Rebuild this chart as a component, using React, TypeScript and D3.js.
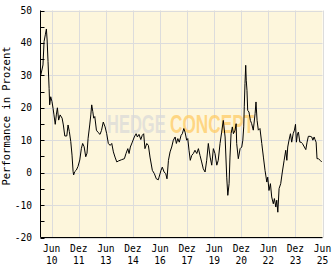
import React from "react";
import * as d3 from "d3";

// decimal year of each reading, and performance in percent
const times: number[] = [
  2009.81, 2009.93, 2009.99, 2010.06, 2010.12, 2010.16, 2010.21, 2010.27, 2010.30, 2010.36,
  2010.43, 2010.49, 2010.54, 2010.61, 2010.67, 2010.73, 2010.80, 2010.88, 2010.99, 2011.06,
  2011.14, 2011.25, 2011.32, 2011.39, 2011.47, 2011.54, 2011.60, 2011.63, 2011.69, 2011.78,
  2011.87, 2011.97, 2012.06, 2012.13, 2012.21, 2012.30, 2012.37, 2012.43, 2012.52, 2012.58,
  2012.63, 2012.69, 2012.74, 2012.80, 2012.89, 2012.98, 2013.09, 2013.17, 2013.27, 2013.37,
  2013.46, 2013.55, 2013.65, 2013.74, 2013.83, 2013.92, 2014.02, 2014.11, 2014.29, 2014.44,
  2014.53, 2014.63, 2014.70, 2014.77, 2014.88, 2014.99, 2015.09, 2015.16, 2015.25, 2015.35,
  2015.43, 2015.51, 2015.58, 2015.68, 2015.77, 2015.86, 2015.99, 2016.10, 2016.21, 2016.32,
  2016.36, 2016.47, 2016.54, 2016.64, 2016.73, 2016.80, 2016.88, 2016.97, 2017.06, 2017.15,
  2017.25, 2017.32, 2017.40, 2017.48, 2017.58, 2017.65, 2017.73, 2017.80, 2017.89, 2017.95,
  2018.02, 2018.09, 2018.17, 2018.26, 2018.35, 2018.45, 2018.54, 2018.63, 2018.72, 2018.81,
  2018.91, 2019.00, 2019.09, 2019.19, 2019.28, 2019.37, 2019.46, 2019.56, 2019.64, 2019.74,
  2019.83, 2019.92, 2020.02, 2020.11, 2020.17, 2020.24, 2020.29, 2020.35, 2020.42, 2020.48,
  2020.57, 2020.63, 2020.66, 2020.75, 2020.85, 2020.94, 2021.00, 2021.05, 2021.08, 2021.12,
  2021.16, 2021.19, 2021.23, 2021.27, 2021.34, 2021.42, 2021.49, 2021.58, 2021.68, 2021.73,
  2021.79, 2021.86, 2021.95, 2022.05, 2022.14, 2022.23, 2022.33, 2022.38, 2022.45, 2022.53,
  2022.60, 2022.69, 2022.75, 2022.83, 2022.88, 2022.94, 2023.01, 2023.10, 2023.19, 2023.29,
  2023.38, 2023.44, 2023.49, 2023.56, 2023.64, 2023.71, 2023.79, 2023.86, 2023.92, 2023.97,
  2024.03, 2024.08, 2024.16, 2024.23, 2024.30, 2024.41, 2024.49, 2024.56, 2024.63, 2024.73,
  2024.82, 2024.88, 2024.95, 2025.00, 2025.06, 2025.11, 2025.19, 2025.28, 2025.37,
];

const performance: number[] = [
  30.1, 33.2, 40.4, 42.5, 44.3, 40.9, 34.3, 26.0, 20.9, 23.4,
  21.9, 19.8, 17.8, 14.9, 17.8, 20.0, 16.2, 17.8, 16.8, 14.7,
  11.3, 11.3, 14.7, 12.7, 9.6, 5.4, 0.3, -0.7, 0.3, 0.8,
  1.9, 3.9, 7.5, 9.0, 8.0, 4.9, 6.0, 10.6, 14.7, 17.8,
  20.9, 18.8, 16.8, 17.3, 13.1, 12.4, 11.8, 13.0, 15.6, 14.1,
  12.0, 9.0, 8.4, 9.0, 6.4, 4.8, 3.3, 3.6, 4.0, 4.3,
  5.9, 7.4, 5.9, 7.9, 9.4, 11.0, 12.0, 11.0, 11.8, 10.2,
  11.5, 12.0, 7.4, 9.0, 8.4, 4.8, 0.7, -0.3, -1.9, -2.2,
  -1.4, 0.7, 1.7, 0.2, -0.3, -1.9, 3.8, 6.4, 7.9, 10.0,
  11.0, 9.0, 10.5, 9.4, 11.5, 12.0, 13.6, 12.5, 10.0, 10.5,
  6.9, 3.8, 5.3, 5.9, 6.9, 5.9, 7.4, 5.3, 3.3, 1.2,
  0.2, 3.8, 9.0, 4.8, 2.3, 7.4, 5.9, 2.3, 3.8, 9.0,
  12.5, 16.1, 11.0, -1.4, -7.0, -3.4, 4.8, 12.0, 14.1, 12.0,
  13.1, 15.1, 9.0, 4.3, 7.4, 7.9, 10.0, 14.1, 20.3, 27.5,
  33.1, 28.5, 25.4, 19.2, 18.7, 16.1, 15.1, 13.1, 18.2, 21.8,
  16.1, 13.1, 13.6, 9.0, 4.8, 0.7, -2.9, -1.4, -5.5, -3.4,
  -7.5, -9.6, -8.0, -10.6, -8.5, -12.2, -4.9, -3.4, 0.2, 3.8,
  6.9, 3.8, 7.9, 10.0, 12.0, 9.4, 12.0, 13.1, 14.9, 9.4,
  12.0, 12.5, 9.4, 9.4, 9.0, 7.9, 7.1, 9.4, 11.2, 11.2,
  11.0, 10.0, 11.0, 10.2, 9.4, 4.3, 4.3, 3.8, 3.3,
];

const xTickDates: string[] = [
  "2010-06", "2011-12", "2013-06", "2014-12", "2016-06", "2017-12",
  "2019-06", "2020-12", "2022-06", "2023-12", "2025-06",
];
const monthNames: string[] = ["Jan", "Feb", "Mär", "Apr", "Mai", "Jun", "Jul", "Aug", "Sep", "Okt", "Nov", "Dez"];
const yTicks: number[] = [-20, -10, 0, 10, 20, 30, 40, 50];
const yMinorTicks: number[] = [-15, -5, 5, 15, 25, 35, 45];
const yTitle = "Performance in Prozent";

function decToDate(t: number): Date {
  const y = Math.floor(t);
  const a = new Date(y, 0, 1).getTime();
  const b = new Date(y + 1, 0, 1).getTime();
  return new Date(a + (t - y) * (b - a));
}
function parseYM(s: string): Date {
  const [y, m] = s.split("-").map(Number);
  return new Date(y, m - 1, 1);
}

export default function App() {
  const W = 332, H = 269;
  const left = 40.5, right = 322.5, top = 10.5, bottom = 237.5;
  const x = d3.scaleTime().domain([parseYM("2010-06"), parseYM("2025-06")]).range([51.7, 322.5]);
  const y = d3.scaleLinear().domain([-20, 50]).range([bottom, top]);
  const pts: [Date, number][] = times.map((t, i) => [decToDate(t), performance[i]]);
  const line = d3.line<[Date, number]>().x((d) => x(d[0])).y((d) => y(d[1]));
  const font = "'DejaVu Sans Mono', 'Liberation Mono', monospace";
  const grid = "#dcdcdc";
  const wmFont = "'Liberation Sans', Arial, sans-serif";

  return (
    <svg width={W} height={H} style={{ position: "absolute", left: 0, top: 0, background: "#fff" }}>
      <rect x={left} y={top} width={right - left} height={bottom - top} fill="#fdf6dc" />
      {yTicks.map((v) => (
        <line key={"gy" + v} x1={left} x2={right} y1={Math.round(y(v)) + 0.5} y2={Math.round(y(v)) + 0.5} stroke={grid} strokeWidth={1} />
      ))}
      {xTickDates.map((s) => {
        const px = Math.round(x(parseYM(s))) + 0.5;
        return <line key={"gx" + s} x1={px} x2={px} y1={top} y2={bottom} stroke={grid} strokeWidth={1} />;
      })}
      <g transform="translate(107,133) scale(0.66,1)">
        <text x={0} y={0} fontFamily={wmFont} fontWeight="bold" fontSize={25} fill="#d8d8d8" fillOpacity={0.7} textLength={89} lengthAdjust="spacingAndGlyphs">HEDGE</text>
      </g>
      <g transform="translate(170,133) scale(0.69,1)">
        <text x={0} y={0} fontFamily={wmFont} fontWeight="bold" fontSize={25} fill="#ffcc66" fillOpacity={0.75} textLength={122} lengthAdjust="spacingAndGlyphs">CONCEPT</text>
      </g>
      <path d={line(pts) || ""} fill="none" stroke="#000" strokeWidth={1} strokeLinejoin="miter" />
      {yMinorTicks.concat(yTicks).map((v) => (
        <line key={"ty" + v} x1={left} x2={left + 4} y1={Math.round(y(v)) + 0.5} y2={Math.round(y(v)) + 0.5} stroke="#000" />
      ))}
      <line x1={left} x2={left} y1={top} y2={bottom} stroke="#000" />
      <line x1={left} x2={right} y1={bottom} y2={bottom} stroke="#000" />
      <g fontFamily={font} fontSize={9.6} fill="#000">
        {yTicks.map((v) => (
          <text key={"ly" + v} x={32} y={y(v) + 3.5} textAnchor="end">{v}</text>
        ))}
        {xTickDates.map((s) => {
          const d = parseYM(s);
          const px = x(d);
          return (
            <g key={"lx" + s}>
              <text x={px} y={252} textAnchor="middle">{monthNames[d.getMonth()]}</text>
              <text x={px} y={264} textAnchor="middle">{String(d.getFullYear() % 100).padStart(2, "0")}</text>
            </g>
          );
        })}
      </g>
      <text transform={`translate(10,116) rotate(-90)`} textAnchor="middle" fontFamily={font} fontSize={10.5} fill="#000">{yTitle}</text>
    </svg>
  );
}
